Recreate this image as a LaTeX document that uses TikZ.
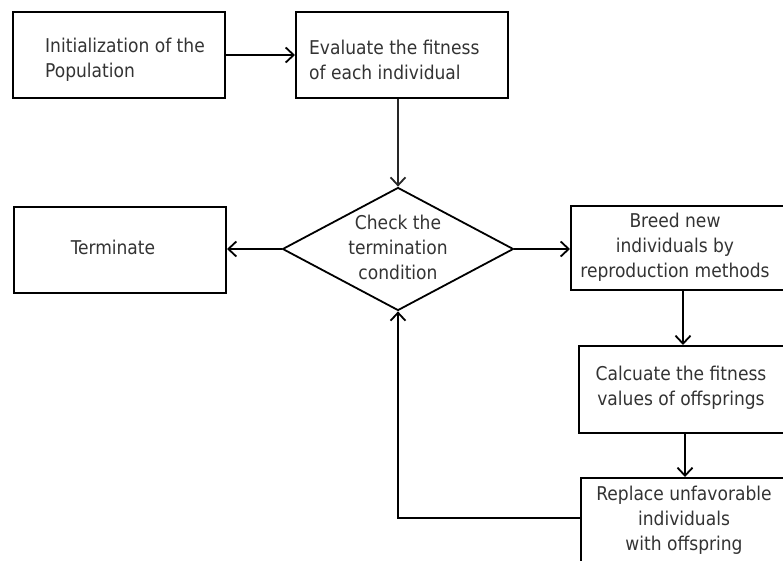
\documentclass[tikz,border=0pt]{standalone}
\usepackage{fontspec}
\setmainfont{DejaVu Sans Condensed}
\usetikzlibrary{shapes.geometric,arrows.meta}
\tikzset{
  x=1pt, y=-1pt,
  box/.style={draw=black, line width=2pt, rectangle, inner sep=0pt, anchor=north west},
  lbl/.style={text=black!80, font=\fontsize{19}{25}\selectfont, inner sep=0pt},
  conn/.style={draw=black, line width=2pt, -{Straight Barb[length=8pt,width=15pt,line width=1.8pt]}},
  thinconn/.style={draw=black!85, line width=1.2pt, -{Straight Barb[length=8pt,width=15pt,line width=1.8pt]}}
}
\begin{document}
\begin{tikzpicture}
\useasboundingbox (0,0) rectangle (783,561);
\begin{scope}
\clip (0,0) rectangle (783,561);
% boxes
\node[box, minimum width=212pt, minimum height=86pt] (init) at (12,11) {};
\node[box, minimum width=212pt, minimum height=86pt] (eval) at (295,11) {};
\node[box, minimum width=212pt, minimum height=86pt] (term) at (13,206) {};
\node[box, minimum width=225pt, minimum height=84pt] (breed) at (570,205) {};
\node[box, minimum width=215pt, minimum height=87pt] (calc) at (578,345) {};
\node[box, minimum width=215pt, minimum height=84pt] (repl) at (580,477) {};
\node[draw=black, line width=1.8pt, diamond, inner sep=0pt, minimum width=231pt, minimum height=123pt] (check) at (398,249) {};
% texts
\node[lbl, anchor=west, align=left] (tinit) at (45,60) {Initialization of the\\Population};
\node[lbl, anchor=west, align=left] (teval) at (309,60) {Evaluate the fitness\\of each individual};
\node[lbl] (tterm) at (113,247) {Terminate};
\node[lbl, align=center] (tcheck) at (398,247) {Check the\\termination\\condition};
\node[lbl, align=center] (tbreed) at (675,247) {Breed new\\individuals by\\reproduction methods};
\node[lbl, align=center] (tcalc) at (681,388) {Calcuate the fitness\\values of offsprings};
\node[lbl, align=center] (trepl) at (684,520) {Replace unfavorable\\individuals\\with offspring};
% connectors
\draw[conn] (init.east) -- (init.east -| eval.west);
\draw[thinconn] (eval.south -| check.north) -- (check.north);
\draw[conn] (check.west) -- (check.west -| term.east);
\draw[conn] (check.east) -- (check.east -| breed.west);
\coordinate (b1) at (683,0);
\draw[conn] (b1 |- breed.south) -- (b1 |- calc.north);
\coordinate (c1) at (685,0);
\draw[conn] (c1 |- calc.south) -- (c1 |- repl.north);
\coordinate (r1) at (0,518);
\draw[conn] (r1 -| repl.west) -- (r1 -| check.south) -- (check.south);
\end{scope}
\end{tikzpicture}
\end{document}
